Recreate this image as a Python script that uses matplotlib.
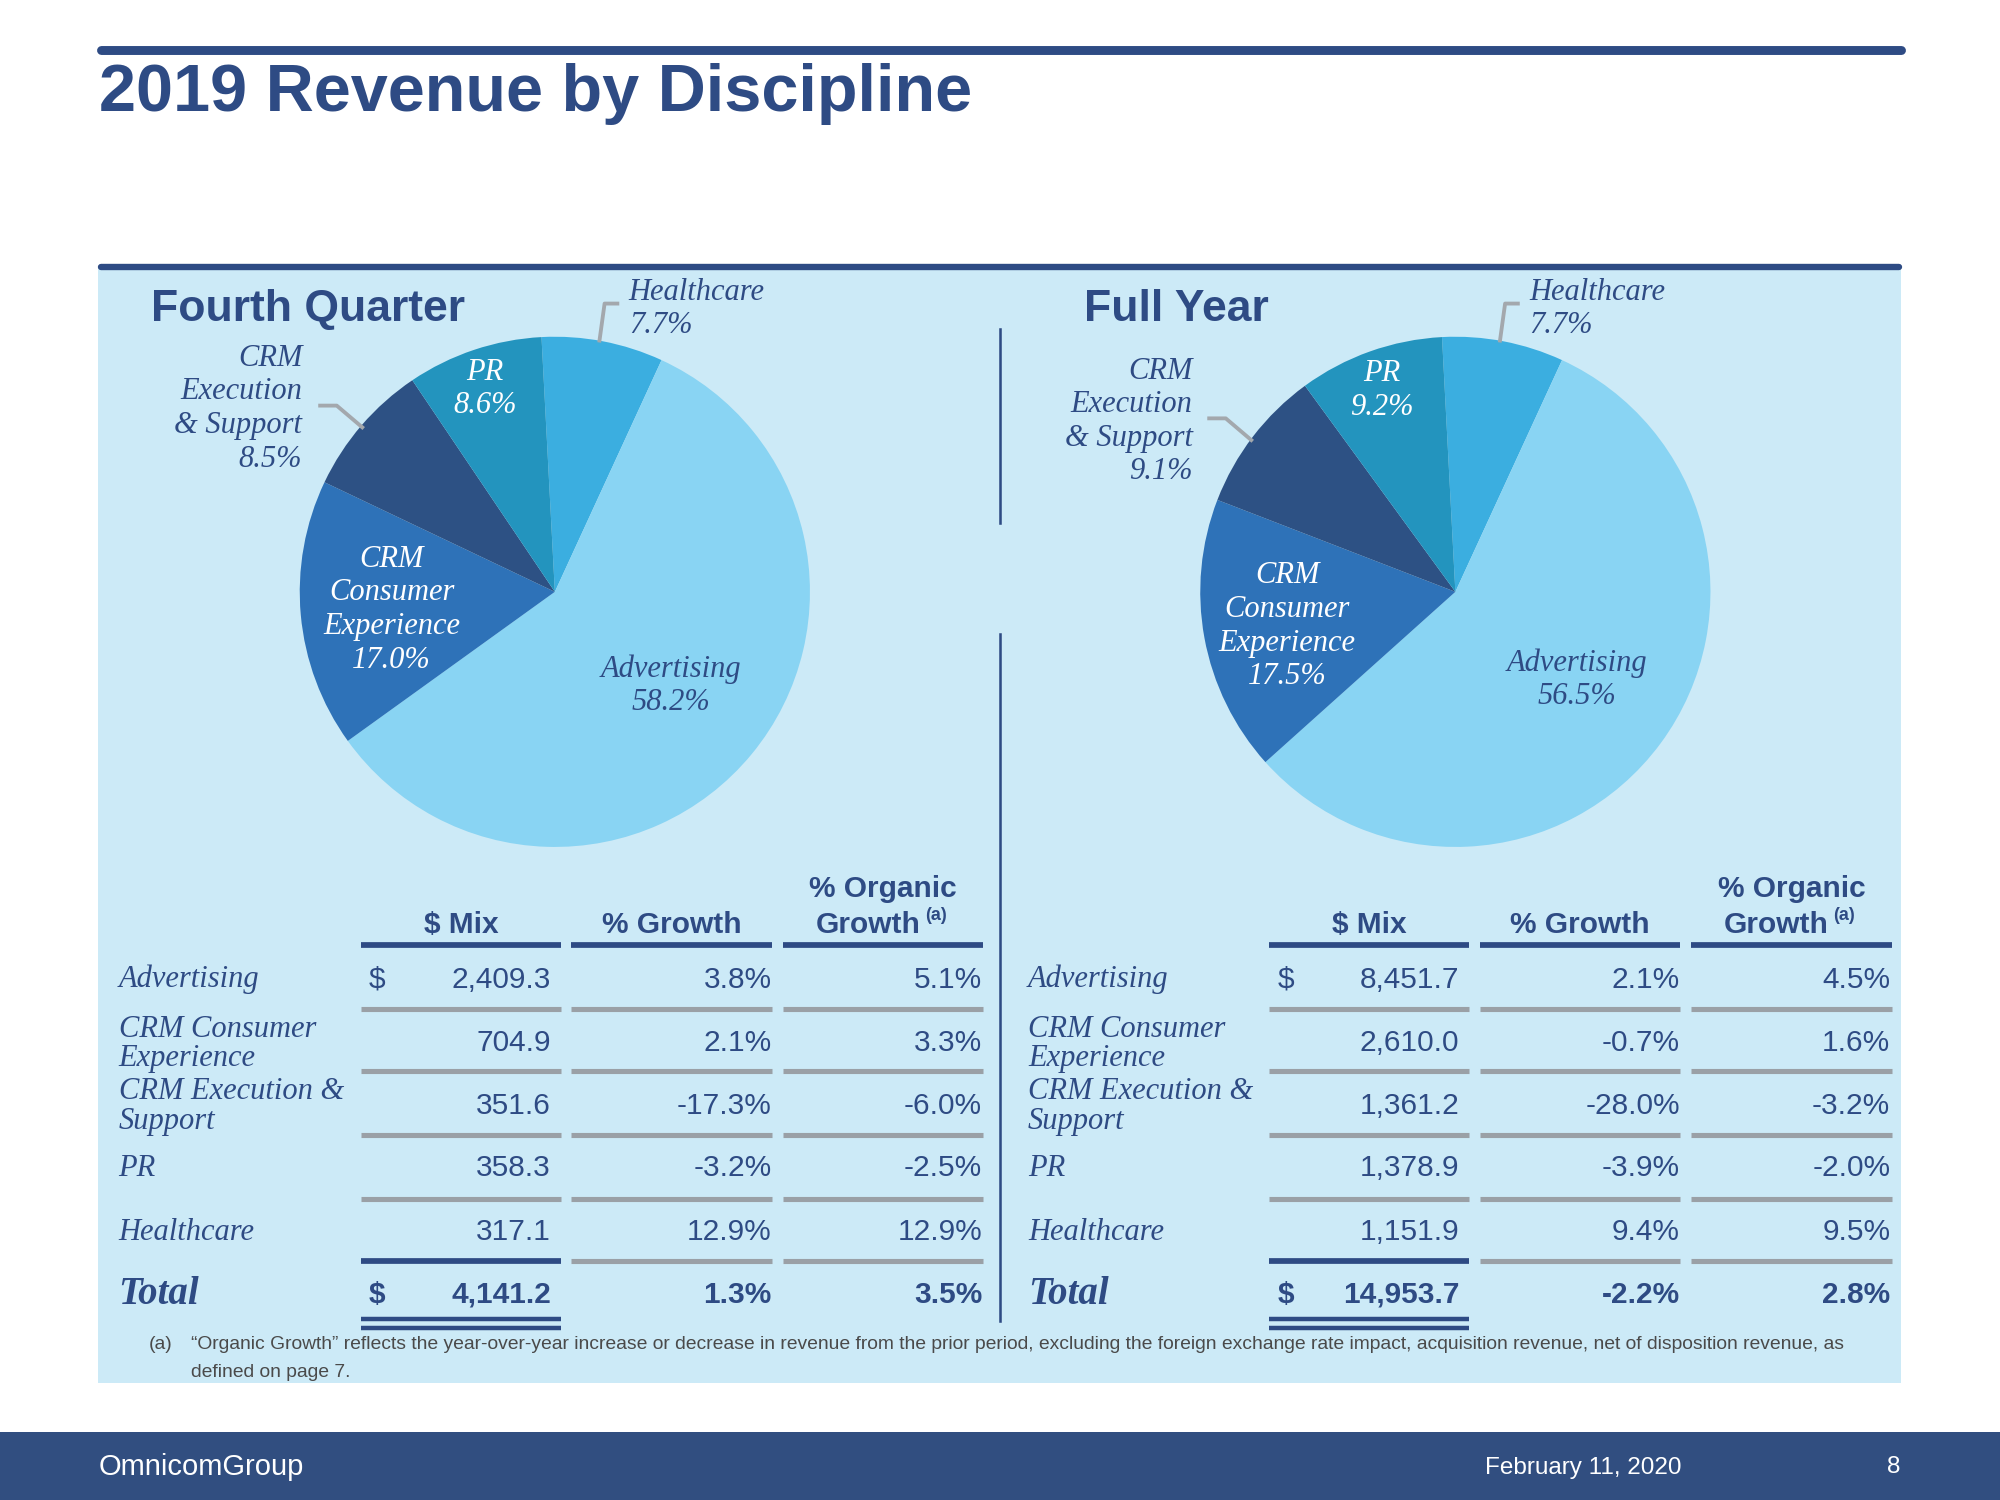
import matplotlib
matplotlib.use("Agg")
import matplotlib.pyplot as plt
from matplotlib.patches import Rectangle

# page is laid out in 1568 x 1176 "slide pixels", saved at 2000 x 1500
W, H = 1568, 1176
PX = 2000 / W * 72 / 100  # slide px -> points

NAVY = "#2E4B84"
BAND = "#314E80"
PANEL = "#CCEAF7"
GRAY = "#9AA0A6"

disciplines = ["Advertising", "CRM Consumer Experience", "CRM Execution & Support", "PR", "Healthcare"]
slice_colors = ["#89D4F3", "#2E72B8", "#2D5184", "#2394BE", "#3BAEE0"]

q4_share = [58.2, 17.0, 8.5, 8.6, 7.7]
fy_share = [56.5, 17.5, 9.1, 9.2, 7.7]

q4_mix = [2409.3, 704.9, 351.6, 358.3, 317.1]
q4_growth = [3.8, 2.1, -17.3, -3.2, 12.9]
q4_organic = [5.1, 3.3, -6.0, -2.5, 12.9]
q4_total = [4141.2, 1.3, 3.5]

fy_mix = [8451.7, 2610.0, 1361.2, 1378.9, 1151.9]
fy_growth = [2.1, -0.7, -28.0, -3.9, 9.4]
fy_organic = [4.5, 1.6, -3.2, -2.0, 9.5]
fy_total = [14953.7, -2.2, 2.8]

table_labels = [["Advertising"], ["CRM Consumer", "Experience"], ["CRM Execution &", "Support"],
                ["PR"], ["Healthcare"]]
pie_labels = [["Advertising"], ["CRM", "Consumer", "Experience"], ["CRM", "Execution", "& Support"],
              ["PR"], ["Healthcare"]]
pie_order = [4, 0, 1, 2, 3]  # clockwise from the top: Healthcare, Advertising, ...

SERIF = ["Liberation Serif", "DejaVu Serif"]
SANS = ["Liberation Sans", "DejaVu Sans"]

fig = plt.figure(figsize=(20, 15), dpi=100)
bg = fig.add_axes([0, 0, 1, 1], zorder=0)
fg = fig.add_axes([0, 0, 1, 1], zorder=10)
for a in (bg, fg):
    a.set_xlim(0, W)
    a.set_ylim(H, 0)
    a.axis("off")
fg.patch.set_alpha(0)


def hline(x0, x1, y, color, lw, cap="butt"):
    fg.plot([x0, x1], [y, y], color=color, lw=lw * PX, solid_capstyle=cap)


def txt(x, y, s, size, color=NAVY, ha="left", va="center", family=SANS, **kw):
    fg.text(x, y, s, fontsize=size, color=color, ha=ha, va=va, family=family, **kw)


# header / frame
hline(79, 1490, 39, NAVY, 7, "round")
txt(78, 74, "2019 Revenue by Discipline", 48, weight="bold")
bg.add_patch(Rectangle((77, 210), 1413, 874, facecolor=PANEL, edgecolor="none"))
hline(79, 1489, 209, NAVY, 5, "round")
fg.plot([784, 784], [258, 410], color=NAVY, lw=2 * PX)
fg.plot([784, 784], [497, 1036], color=NAVY, lw=2 * PX)
bg.add_patch(Rectangle((0, 1123), W, H - 1123, facecolor=BAND, edgecolor="none"))
txt(77, 1150, "OmnicomGroup", 21, color="white")
txt(1318, 1151, "February 11, 2020", 17.5, color="white", ha="right")
txt(1490, 1150, "8", 17.5, color="white", ha="right")

# pies
panels = [
    dict(title="Fourth Quarter", tx=118, share=q4_share, cx=435, cy=464, r=200,
         pos={0: (91, 74), 1: (-128, 14), 2: (-198, -183), 3: (-55, -159), 4: (58, -235)},
         leaders=[[(470, 267), (474, 238), (484, 238)], [(251, 318), (264, 318), (284, 335)]]),
    dict(title="Full Year", tx=850, share=fy_share, cx=1141, cy=464, r=200,
         pos={0: (95, 69), 1: (-132, 27), 2: (-206, -173), 3: (-58, -158), 4: (58, -235)},
         leaders=[[(1176, 267), (1180, 238), (1190, 238)], [(948, 328), (961, 328), (981, 345)]]),
]
LS = 26.3
for p in panels:
    txt(p["tx"], 243, p["title"], 32, weight="bold")
    cx, cy, r = p["cx"], p["cy"], p["r"]
    ax = fig.add_axes([(cx - r) / W, 1 - (cy + r) / H, 2 * r / W, 2 * r / H], zorder=5)
    ax.pie([p["share"][i] for i in pie_order], colors=[slice_colors[i] for i in pie_order],
           startangle=93, counterclock=False, radius=1,
           wedgeprops=dict(linewidth=0))
    ax.set_xlim(-1, 1)
    ax.set_ylim(-1, 1)
    ax.set_aspect("auto")
    ax.axis("off")
    for pts in p["leaders"]:
        fg.plot([q[0] for q in pts], [q[1] for q in pts], color="#A3A8AD", lw=3 * PX)
    for i, (dx, dy) in p["pos"].items():
        lines = pie_labels[i] + [f"{p['share'][i]:.1f}%"]
        color = "white" if i in (1, 3) else NAVY
        ha = {2: "right", 4: "left"}.get(i, "center")
        y0 = cy + dy
        if i == 1:
            y0 = cy + dy - 1.5 * LS
        elif i in (0, 3):
            y0 = cy + dy - 0.5 * LS
        for k, s in enumerate(lines):
            txt(cx + dx, y0 + k * LS, s, 22, color=color, ha=ha, family=SERIF, style="italic")

# tables
tables = [
    dict(lx=93, dx=289, cols=[(283, 440), (448, 605), (614, 771)],
         mix=q4_mix, growth=q4_growth, organic=q4_organic, total=q4_total),
    dict(lx=806, dx=1002, cols=[(995, 1152), (1160, 1317), (1326, 1483)],
         mix=fy_mix, growth=fy_growth, organic=fy_organic, total=fy_total),
]
row_y = [768, 818, 867, 916, 966]
sep_y = [791, 840, 890, 940]
total_y = 1015
for t in tables:
    cols = t["cols"]
    c0 = [(a + b) / 2 for a, b in cols]
    txt(c0[0], 725, "$ Mix", 21.5, ha="center", weight="bold")
    txt(c0[1], 725, "% Growth", 21.5, ha="center", weight="bold")
    txt(c0[2], 697, "% Organic", 21.5, ha="center", weight="bold")
    txt(c0[2] + 29, 725, "Growth", 21.5, ha="right", weight="bold")
    txt(c0[2] + 33, 718, "(a)", 13, ha="left", weight="bold")
    for a, b in cols:
        hline(a, b, 741, NAVY, 4.5)
        for y in sep_y:
            hline(a, b, y, GRAY, 4)
    hline(cols[0][0], cols[0][1], 989, NAVY, 4.5)
    for a, b in cols[1:]:
        hline(a, b, 989, GRAY, 4)
    hline(cols[0][0], cols[0][1], 1034, NAVY, 3.5)
    hline(cols[0][0], cols[0][1], 1041, NAVY, 3.5)

    for i, y in enumerate(row_y):
        lab = table_labels[i]
        if len(lab) == 1:
            txt(t["lx"], y, lab[0], 22, family=SERIF, style="italic")
        else:
            txt(t["lx"], y - 11, lab[0], 22, family=SERIF, style="italic")
            txt(t["lx"], y + 12, lab[1], 22, family=SERIF, style="italic")
        if i == 0:
            txt(t["dx"], y, "$", 21.5)
        txt(cols[0][1] - 8, y, f"{t['mix'][i]:,.1f}", 21.5, ha="right")
        txt(cols[1][1], y, f"{t['growth'][i]:.1f}%", 21.5, ha="right")
        txt(cols[2][1] - 1, y, f"{t['organic'][i]:.1f}%", 21.5, ha="right")

    tot = t["total"]
    txt(t["lx"], total_y, "Total", 28, family=SERIF, style="italic", weight="bold")
    txt(t["dx"], total_y, "$", 21.5, weight="bold")
    txt(cols[0][1] - 8, total_y, f"{tot[0]:,.1f}", 21.5, ha="right", weight="bold")
    txt(cols[1][1], total_y, f"{tot[1]:.1f}%", 21.5, ha="right", weight="bold")
    txt(cols[2][1] - 1, total_y, f"{tot[2]:.1f}%", 21.5, ha="right", weight="bold")

# footnote
NOTE = "#4A4A4A"
txt(117, 1054, "(a)", 13.9, color=NOTE)
txt(150, 1054, "\u201cOrganic Growth\u201d reflects the year-over-year increase or decrease in revenue from the prior "
    "period, excluding the foreign exchange rate impact, acquisition revenue, net of disposition revenue, as",
    13.9, color=NOTE)
txt(150, 1076, "defined on page 7.", 13.9, color=NOTE)

fig.savefig("out.png", dpi=100)
